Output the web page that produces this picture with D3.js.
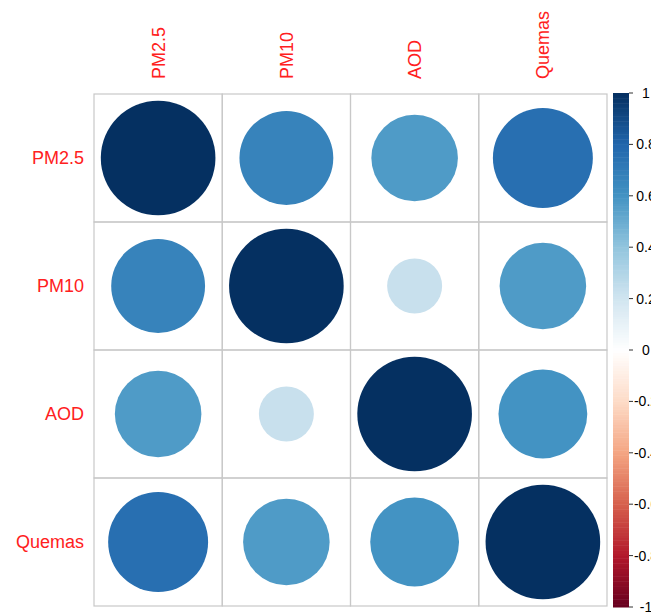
<!DOCTYPE html>
<html><head><meta charset="utf-8">
<script src="https://cdn.jsdelivr.net/npm/d3@7"></script>
<style>html,body{margin:0;padding:0;background:#fff;overflow:hidden}</style>
</head><body>
<svg id="chart" width="651" height="615"></svg>
<script>
const variables = ["PM2.5", "PM10", "AOD", "Quemas"];
const rowPM25 = [1, 0.67, 0.57, 0.76];
const rowPM10 = [0.67, 1, 0.23, 0.57];
const rowAOD = [0.57, 0.23, 1, 0.60];
const rowQuemas = [0.76, 0.57, 0.60, 1];
const corrRows = [rowPM25, rowPM10, rowAOD, rowQuemas];
const legendTicks = [1, 0.8, 0.6, 0.4, 0.2, 0, -0.2, -0.4, -0.6, -0.8, -1];
const paletteStops = ["#67001F", "#B2182B", "#D6604D", "#F4A582", "#FDDBC7", "#FFFFFF", "#D1E5F0", "#92C5DE", "#4393C3", "#2166AC", "#053061"];

const svg = d3.select("#chart");
const gridL = 94, gridR = 607, gridT = 94, gridB = 606;

const x = d3.scaleBand().domain(variables).range([gridL, gridR]).padding(0);
const y = d3.scaleBand().domain(variables).range([gridT, gridB]).padding(0);
const color = d3.scaleLinear()
  .domain(d3.range(paletteStops.length).map(i => -1 + 2 * i / (paletteStops.length - 1)))
  .range(paletteStops).interpolate(d3.interpolateRgb);
const rad = v => 0.447 * x.bandwidth() * Math.sqrt(Math.abs(v));

const cells = [];
corrRows.forEach((row, i) => row.forEach((v, j) => cells.push({r: variables[i], c: variables[j], v})));

// grid
const g = svg.append("g");
g.selectAll("rect.cell").data(cells).join("rect")
  .attr("x", d => x(d.c)).attr("y", d => y(d.r))
  .attr("width", x.bandwidth()).attr("height", y.bandwidth())
  .attr("fill", "none").attr("stroke", "#C8C8C8").attr("stroke-width", 1.2);

g.selectAll("circle").data(cells).join("circle")
  .attr("cx", d => x(d.c) + x.bandwidth() / 2)
  .attr("cy", d => y(d.r) + y.bandwidth() / 2)
  .attr("r", d => rad(d.v))
  .attr("fill", d => color(d.v));

// row labels
svg.selectAll("text.row").data(variables).join("text")
  .attr("class", "row")
  .attr("x", 84).attr("y", d => y(d) + y.bandwidth() / 2)
  .attr("dy", "0.35em").attr("text-anchor", "end")
  .attr("font-family", "Liberation Sans, Arial, sans-serif").attr("font-size", 18)
  .attr("fill", "#FF2020").text(d => d);

// column labels
svg.selectAll("text.col").data(variables).join("text")
  .attr("class", "col")
  .attr("transform", d => `translate(${x(d) + x.bandwidth() / 2 + 6.5},79) rotate(-90)`)
  .attr("text-anchor", "start")
  .attr("font-family", "Liberation Sans, Arial, sans-serif").attr("font-size", 18)
  .attr("fill", "#FF2020").text(d => d);

// color legend
const ly = d3.scaleLinear().domain([-1, 1]).range([607, 93]);
const steps = d3.range(-1, 1, 0.01);
svg.append("g").selectAll("rect").data(steps).join("rect")
  .attr("x", 613).attr("width", 16)
  .attr("y", d => ly(d + 0.01)).attr("height", d => ly(d) - ly(d + 0.01) + 0.5)
  .attr("fill", d => color(d + 0.005));

const lg = svg.append("g");
lg.selectAll("line").data(legendTicks).join("line")
  .attr("x1", 629).attr("x2", 633)
  .attr("y1", d => ly(d)).attr("y2", d => ly(d))
  .attr("stroke", "#333").attr("stroke-width", 1);
lg.selectAll("text").data(legendTicks).join("text")
  .attr("x", 646).attr("y", d => ly(d)).attr("dy", "0.35em")
  .attr("text-anchor", "middle")
  .attr("font-family", "Liberation Sans, Arial, sans-serif").attr("font-size", 14)
  .attr("fill", "#000").text(d => d3.format("")(d).replace("−", "-"));
</script>
</body></html>
